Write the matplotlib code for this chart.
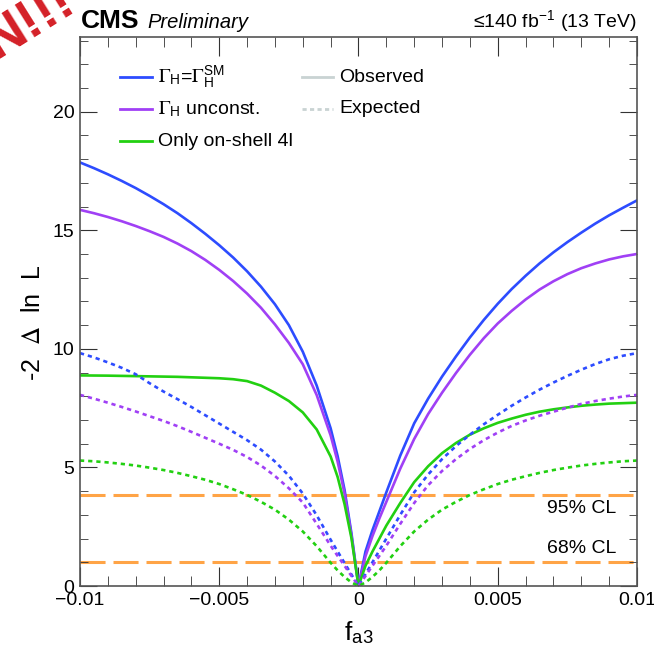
import numpy as np
import matplotlib
matplotlib.use("Agg")
import matplotlib.pyplot as plt
from matplotlib.ticker import MultipleLocator

plt.rcParams['font.family'] = ['Liberation Sans', 'DejaVu Sans']
plt.rcParams['mathtext.fontset'] = 'stix'

# f_a3 scan points
fa3_neg = [-0.0100, -0.0095, -0.0090, -0.0085, -0.0080, -0.0075, -0.0070, -0.0065,
           -0.0060, -0.0055, -0.0050, -0.0045, -0.0040, -0.0035, -0.0030, -0.0025,
           -0.0020, -0.0015, -0.0010, -0.00075, -0.0005, -0.00025]
fa3 = fa3_neg + [0.0] + [-v for v in fa3_neg[::-1]]

# -2 Delta lnL, observed
obs_sm = [17.86, 17.62, 17.36, 17.08, 16.78, 16.45, 16.1, 15.72, 15.3, 14.85, 14.37,
          13.85, 13.27, 12.62, 11.88, 11.0, 9.88, 8.45, 6.65, 5.48, 4.05, 2.2,
          0.0,
          1.45, 2.35, 3.15, 3.95, 5.5, 6.86, 7.9, 8.83, 9.68, 10.48, 11.22,
          11.9, 12.52, 13.08, 13.6, 14.07, 14.5, 14.9, 15.28, 15.63, 15.95, 16.26]
obs_unc = [15.86, 15.72, 15.56, 15.38, 15.18, 14.96, 14.72, 14.44, 14.12, 13.75, 13.33,
           12.86, 12.33, 11.73, 11.03, 10.25, 9.35, 8.05, 6.35, 5.25, 3.9, 2.1,
           0.0,
           1.25, 2.1, 2.85, 3.55, 4.95, 6.2, 7.25, 8.15, 8.98, 9.75, 10.45,
           11.07, 11.6, 12.08, 12.5, 12.85, 13.15, 13.4, 13.6, 13.77, 13.9, 14.0]
obs_4l = [8.88, 8.875, 8.87, 8.86, 8.85, 8.84, 8.83, 8.82, 8.8, 8.78, 8.76,
          8.72, 8.64, 8.45, 8.15, 7.8, 7.32, 6.6, 5.46, 4.6, 3.45, 2.0,
          0.0,
          0.85, 1.45, 2.0, 2.55, 3.5, 4.38, 5.05, 5.6, 6.03, 6.38, 6.65,
          6.88, 7.06, 7.22, 7.35, 7.45, 7.53, 7.6, 7.65, 7.69, 7.71, 7.73]

# -2 Delta lnL, expected
exp_sm = [9.82, 9.64, 9.43, 9.2, 8.93, 8.55, 8.2, 7.88, 7.55, 7.2, 6.85,
          6.5, 6.15, 5.75, 5.25, 4.65, 3.9, 2.98, 1.95, 1.46, 0.97, 0.48,
          0.0,
          0.5, 1.0, 1.5, 2.0, 3.0, 3.95, 4.7, 5.35, 5.9, 6.38, 6.82,
          7.22, 7.6, 7.95, 8.28, 8.58, 8.86, 9.12, 9.36, 9.56, 9.71, 9.82]
exp_unc = [8.06, 7.9, 7.73, 7.55, 7.36, 7.16, 6.96, 6.74, 6.5, 6.25, 6.0,
           5.74, 5.44, 5.08, 4.64, 4.12, 3.52, 2.62, 1.7, 1.27, 0.85, 0.42,
           0.0,
           0.42, 0.85, 1.27, 1.7, 2.62, 3.5, 4.25, 4.85, 5.35, 5.78, 6.15,
           6.47, 6.75, 6.98, 7.18, 7.35, 7.52, 7.68, 7.8, 7.9, 7.99, 8.06]
exp_4l = [5.29, 5.26, 5.21, 5.15, 5.08, 4.99, 4.89, 4.77, 4.63, 4.48, 4.3,
          4.08, 3.84, 3.55, 3.22, 2.8, 2.3, 1.68, 0.98, 0.66, 0.38, 0.15,
          0.0,
          0.15, 0.38, 0.66, 0.98, 1.68, 2.3, 2.8, 3.22, 3.55, 3.84, 4.08,
          4.3, 4.48, 4.63, 4.77, 4.89, 4.99, 5.08, 5.15, 5.21, 5.26, 5.29]

cl_levels = [1.0, 3.84]
cl_names = ['68% CL', '95% CL']
cl_text_y = [1.6, 3.25]

BLUE = '#2d4cff'
PURPLE = '#a040f5'
GREEN = '#22d011'
ORANGE = '#ffa446'
LEG_GRAY = '#c9d3d3'

fig = plt.figure(figsize=(6.54, 6.58), dpi=100)
ax = fig.add_axes([0.1223, 0.1094, 0.8517, 0.8344])

lw = 1.9
dots = (1.6, 1.5)
ax.plot(fa3, obs_sm, color=BLUE, lw=lw)
ax.plot(fa3, obs_unc, color=PURPLE, lw=lw)
ax.plot(fa3, obs_4l, color=GREEN, lw=lw)
ax.plot(fa3, exp_sm, color=BLUE, lw=lw, ls=(0, dots))
ax.plot(fa3, exp_unc, color=PURPLE, lw=lw, ls=(0, dots))
ax.plot(fa3, exp_4l, color=GREEN, lw=lw, ls=(0, dots))

for lev, name, ty in zip(cl_levels, cl_names, cl_text_y):
    ax.axhline(lev, color=ORANGE, lw=2.2, ls=(0, (8.2, 2.6)), zorder=1)
    ax.text(0.00925, ty, name, ha='right', va='center', fontsize=14)

ax.set_xlim(-0.01, 0.01)
ax.set_ylim(0, 23.15)
ax.xaxis.set_minor_locator(MultipleLocator(0.001))
ax.yaxis.set_major_locator(MultipleLocator(5))
ax.yaxis.set_minor_locator(MultipleLocator(1))
ax.set_xticks([-0.01, -0.005, 0, 0.005, 0.01])
ax.set_xticklabels(['\u22120.01', '\u22120.005', '0', '0.005', '0.01'])
ax.tick_params(which='both', direction='in', top=True, right=True,
               labelsize=14, colors='#333333', labelcolor='black')
ax.tick_params(axis='x', which='major', length=14, pad=4)
ax.tick_params(axis='x', which='minor', length=7)
ax.tick_params(axis='y', which='major', length=12, pad=4)
ax.tick_params(axis='y', which='minor', length=6)
for sp in ax.spines.values():
    sp.set_color('#555555')
    sp.set_linewidth(1.2)

ax.set_xlabel(r'f$_{\mathregular{a3}}$', fontsize=19)
ax.xaxis.set_label_coords(0.5, -0.06)
ax.set_ylabel(r'-2  $\Delta$  ln  L', fontsize=18)
ax.yaxis.set_label_coords(-0.062, 0.48)

# legend drawn in axes coordinates
def leg_entry(x0, y, color, ls, label):
    ax.plot([x0, x0 + 0.057], [y, y], transform=ax.transAxes, color=color,
            lw=2.0, ls=ls, clip_on=False)
    ax.text(x0 + 0.068, y, label, transform=ax.transAxes, ha='left',
            va='center', fontsize=14)

row_y = [0.927, 0.869, 0.81]
leg_entry(0.072, row_y[0], BLUE, '-',
          r'$\Gamma_{\mathregular{H}}$=$\Gamma_{\mathregular{H}}^{\mathregular{SM}}$')
leg_entry(0.072, row_y[1], PURPLE, '-', r'$\Gamma_{\mathregular{H}}$ unconst.')
leg_entry(0.072, row_y[2], GREEN, '-', 'Only on-shell 4l')
leg_entry(0.398, row_y[0], LEG_GRAY, '-', 'Observed')
leg_entry(0.398, row_y[1], LEG_GRAY, (0, (1.5, 1.2)), 'Expected')

# header
fig.text(0.124, 0.958, 'CMS', fontsize=19, fontweight='bold', ha='left', va='baseline')
fig.text(0.226, 0.958, 'Preliminary', fontsize=14.5, style='italic', ha='left', va='baseline')
fig.text(0.973, 0.958, '\u2264140 fb$^{\\mathregular{-1}}$ (13 TeV)', fontsize=14,
         ha='right', va='baseline')

# red stamp in the corner
fig.text(-0.006, 0.91, 'N!!!', fontsize=40, fontweight='bold', color='#d42027',
         rotation=32, rotation_mode='anchor', ha='left', va='baseline')

fig.savefig('out.png', dpi=100)
